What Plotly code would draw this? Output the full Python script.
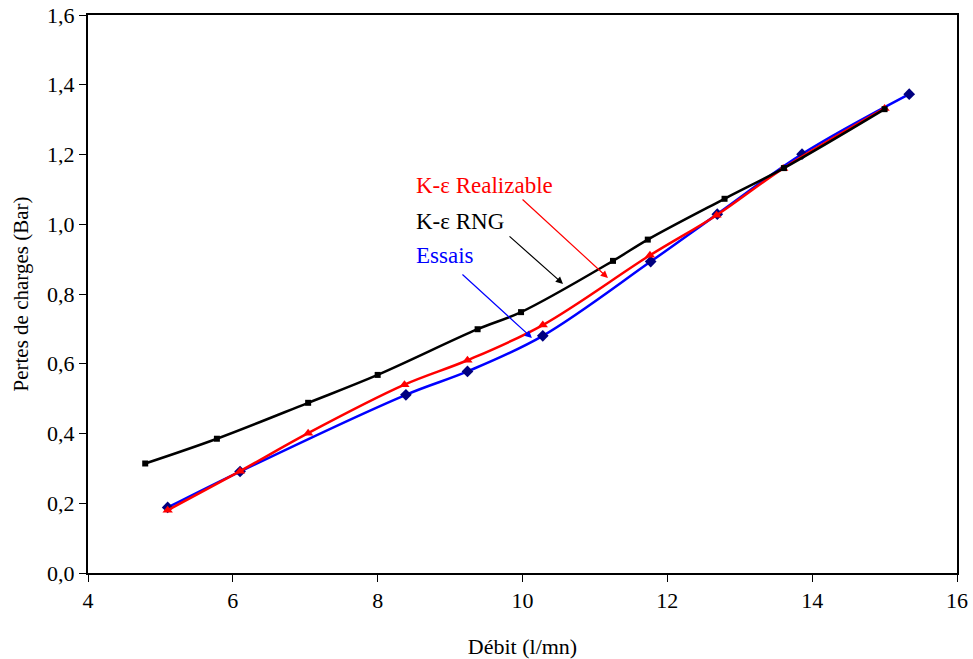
import plotly.graph_objects as go

# Data
rng_x = [4.79, 5.78, 7.04, 8.00, 9.38, 9.98, 11.25, 11.73, 12.79, 13.61, 15.00]
rng_y = [0.314, 0.385, 0.488, 0.568, 0.699, 0.748, 0.895, 0.956, 1.073, 1.161, 1.330]

essais_x = [5.10, 6.10, 8.39, 9.24, 10.28, 11.77, 12.69, 13.86, 15.34]
essais_y = [0.188, 0.291, 0.511, 0.578, 0.680, 0.893, 1.029, 1.201, 1.373]

real_x = [5.10, 6.10, 7.04, 8.37, 9.24, 10.28, 11.76, 12.68, 13.60, 15.00]
real_y = [0.180, 0.292, 0.401, 0.540, 0.610, 0.711, 0.911, 1.026, 1.160, 1.332]

x_ticks = [4, 6, 8, 10, 12, 14, 16]
y_ticks = [0.0, 0.2, 0.4, 0.6, 0.8, 1.0, 1.2, 1.4, 1.6]

FONT = "Liberation Serif"

fig = go.Figure()
fig.add_trace(go.Scatter(
    x=essais_x, y=essais_y, mode="lines+markers", name="Essais",
    line=dict(color="#0000FF", width=2.5, shape="spline", smoothing=1.0),
    marker=dict(symbol="diamond", size=9, color="#000080"),
))
fig.add_trace(go.Scatter(
    x=real_x, y=real_y, mode="lines+markers", name="K-ε Realizable",
    line=dict(color="#FF0000", width=2.5, shape="spline", smoothing=1.0),
    marker=dict(symbol="triangle-up", size=9, color="#FF0000"),
))
fig.add_trace(go.Scatter(
    x=rng_x, y=rng_y, mode="lines+markers", name="K-ε RNG",
    line=dict(color="#000000", width=2.5, shape="spline", smoothing=1.0),
    marker=dict(symbol="square", size=6, color="#000000"),
))

labels = [
    ("K-ε Realizable", "#FF0000", 8.50, 1.110, 9.98, 1.075, 11.18, 0.846),
    ("K-ε RNG", "#000000", 8.50, 1.009, 9.80, 0.969, 10.56, 0.829),
    ("Essais", "#0000FF", 8.50, 0.909, 9.15, 0.860, 10.13, 0.674),
]
for text, col, tx, ty, ax0, ay0, hx, hy in labels:
    fig.add_annotation(x=tx, y=ty, text=text, showarrow=False, xanchor="left",
                       yanchor="middle", font=dict(family=FONT, size=23, color=col))
    fig.add_annotation(x=hx, y=hy, ax=ax0, ay=ay0, xref="x", yref="y",
                       axref="x", ayref="y", text="", showarrow=True,
                       arrowhead=2, arrowsize=1.2, arrowwidth=1.2, arrowcolor=col)

axis_common = dict(
    showline=True, linecolor="black", linewidth=2, mirror=True,
    ticks="outside", ticklen=7, tickcolor="black", tickwidth=1,
    showgrid=False, zeroline=False, automargin=False,
    ticklabeloverflow="allow",
    tickfont=dict(family=FONT, size=22, color="black"),
)
fig.update_xaxes(range=[4, 16], tickvals=x_ticks, ticktext=[str(v) for v in x_ticks],
                 title=dict(text="Débit (l/mn)", font=dict(family=FONT, size=22, color="black"),
                            standoff=26),
                 **axis_common)
fig.update_yaxes(range=[0, 1.6], tickvals=y_ticks,
                 ticktext=[f"{v:.1f}".replace(".", ",") for v in y_ticks],
                 title=dict(text="Pertes de charges (Bar)",
                            font=dict(family=FONT, size=21, color="black"), standoff=13),
                 **axis_common)
fig.update_layout(
    width=973, height=659,
    margin=dict(l=88, r=16, t=15, b=86),
    plot_bgcolor="white", paper_bgcolor="white",
    showlegend=False,
    font=dict(family=FONT, color="black"),
)
# Remove the default 8px body margin so the figure fills the window exactly
fig.write_html("out.html",
               config={"displayModeBar": False},
               post_script="document.body.style.margin='0px';document.body.style.overflow='hidden';")
